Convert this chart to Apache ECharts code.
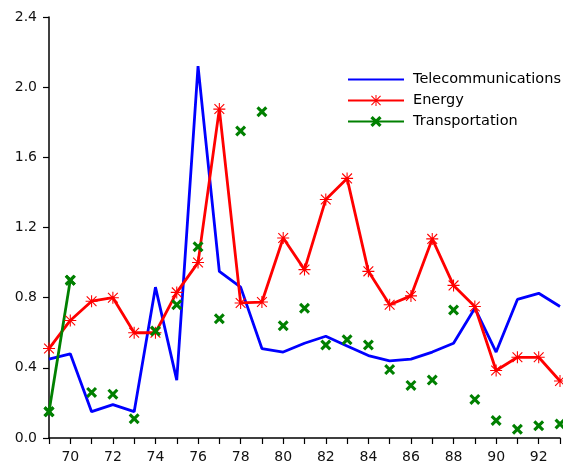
<!DOCTYPE html>
<html>
<head>
<meta charset="utf-8">
<script src="https://cdn.jsdelivr.net/npm/echarts@6/dist/echarts.min.js"></script>
<style>html,body{margin:0;padding:0;background:#fff}#c{width:563px;height:468px}</style>
</head>
<body>
<div id="c"></div>
<script>
const years = [69,70,71,72,73,74,75,76,77,78,79,80,81,82,83,84,85,86,87,88,89,90,91,92,93];
const telecom = [0.45,0.48,0.15,0.19,0.15,0.86,0.33,2.12,0.95,0.86,0.51,0.49,0.54,0.58,0.525,0.47,0.44,0.45,0.49,0.54,0.74,0.49,0.79,0.825,0.75];
const energy = [0.51,0.67,0.78,0.80,0.60,0.60,0.83,1.00,1.875,0.77,0.775,1.14,0.96,1.36,1.48,0.95,0.76,0.81,1.135,0.87,0.75,0.385,0.46,0.46,0.325];
const transport = [0.15,0.90,0.26,0.25,0.11,0.61,0.76,1.09,0.68,1.75,1.86,0.64,0.74,0.53,0.56,0.53,0.39,0.30,0.33,0.73,0.22,0.10,0.05,0.07,0.08];
const yTicks = [0,0.4,0.8,1.2,1.6,2.0,2.4];

const pair = (arr) => years.map((y, i) => [y, arr[i]]);
const FONT = 'DejaVu Sans';
const asterisk = 'path://M9.1 0L10.9 0L10.9 20L9.1 20ZM0 9.1L20 9.1L20 10.9L0 10.9ZM2.5 1.2L18.8 17.5L17.5 18.8L1.2 2.5ZM17.5 1.2L18.8 2.5L2.5 18.8L1.2 17.5Z';
const cross = 'path://M0 2L2 0L10 8L8 10ZM8 0L10 2L2 10L0 8Z';

const chart = echarts.init(document.getElementById('c'), null, {renderer: 'canvas'});
chart.setOption({
  animation: false,
  backgroundColor: '#fff',
  grid: {left: 49, right: 0, top: 17, bottom: 30},
  legend: {
    orient: 'vertical', left: 347, top: 72, padding: 0,
    itemWidth: 56, itemHeight: 14, itemGap: 6,
    textStyle: {fontFamily: FONT, fontSize: 14.5, color: '#000', padding: [0,0,0,4]},
    data: [
      {name: 'Telecommunications', itemStyle: {opacity: 0}},
      'Energy',
      'Transportation'
    ]
  },
  xAxis: {
    type: 'value', min: 69, max: 93, interval: 1,
    axisLine: {lineStyle: {color: '#000', width: 1.5}},
    axisTick: {show: true, length: 6, lineStyle: {color: '#000', width: 1.2}},
    axisLabel: {fontFamily: FONT, fontSize: 14, color: '#111', margin: 12,
      formatter: v => (v % 2 === 0 ? String(v) : '')},
    splitLine: {show: false}
  },
  yAxis: {
    type: 'value', min: 0, max: 2.4, interval: 0.4,
    axisLine: {show: true, lineStyle: {color: '#000', width: 1.5}},
    axisTick: {show: true, length: 6, lineStyle: {color: '#000', width: 1.2}},
    axisLabel: {fontFamily: FONT, fontSize: 14, color: '#111', margin: 12,
      formatter: v => v.toFixed(1)},
    splitLine: {show: false}
  },
  series: [
    {
      name: 'Telecommunications', type: 'line', data: pair(telecom),
      showSymbol: false, symbol: 'none',
      lineStyle: {color: '#0000ff', width: 2.8}, itemStyle: {color: '#0000ff'}
    },
    {
      name: 'Energy', type: 'line', data: pair(energy),
      symbol: asterisk, symbolSize: 12, showSymbol: true,
      lineStyle: {color: '#ff0000', width: 2.8}, itemStyle: {color: '#ff0000'}
    },
    {
      name: 'Transportation', type: 'line', data: pair(transport).slice(0, 2),
      symbol: cross, symbolSize: 11, showSymbol: true,
      lineStyle: {color: '#008000', width: 2.8}, itemStyle: {color: '#008000'}
    },
    {
      name: 'Transportation', type: 'line', data: pair(transport),
      symbol: cross, symbolSize: 11, showSymbol: true,
      lineStyle: {color: '#008000', width: 0, opacity: 0}, itemStyle: {color: '#008000'}
    }
  ]
});
</script>
</body>
</html>
